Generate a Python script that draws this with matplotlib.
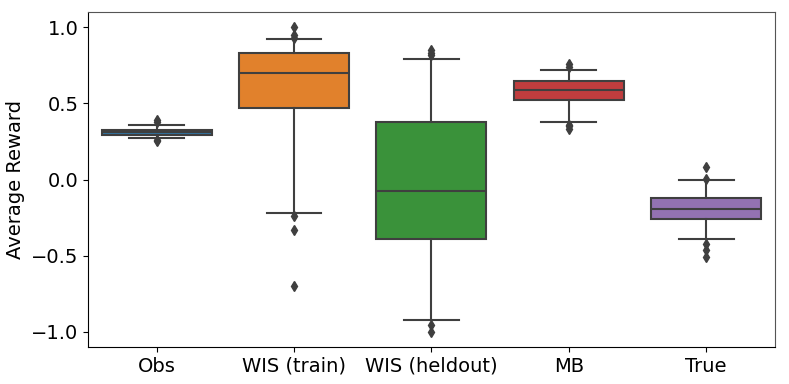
import matplotlib
matplotlib.use('Agg')
from matplotlib import pyplot as plt

labels = ['Obs', 'WIS (train)', 'WIS (heldout)', 'MB', 'True']
medians = [0.31, 0.70, -0.075, 0.585, -0.195]
q1 = [0.29, 0.47, -0.39, 0.52, -0.26]
q3 = [0.325, 0.83, 0.38, 0.645, -0.12]
whis_lo = [0.27, -0.22, -0.92, 0.38, -0.39]
whis_hi = [0.355, 0.92, 0.79, 0.72, 0.0]
fliers = [
    [0.39, 0.38, 0.25, 0.26],
    [1.0, 0.95, 0.93, -0.24, -0.33, -0.70],
    [0.85, 0.83, 0.82, -0.955, -1.0],
    [0.755, 0.74, 0.36, 0.35, 0.33],
    [0.08, 0.005, -0.42, -0.46, -0.51],
]
colors = ['#3274a1', '#e1812c', '#3a923a', '#c03d3e', '#9372b2']
line_color = '#3f3f3f'

stats = []
for i in range(len(labels)):
    stats.append(dict(label=labels[i], med=medians[i], q1=q1[i], q3=q3[i],
                      whislo=whis_lo[i], whishi=whis_hi[i], fliers=fliers[i]))

fig = plt.figure(figsize=(7.89, 3.84), dpi=100)
ax = fig.add_axes([0.1115, 0.096, 0.8705, 0.873])

lp = dict(color=line_color, linewidth=1.5)
bp = ax.bxp(stats, positions=range(len(labels)), widths=0.8, patch_artist=True,
            boxprops=dict(edgecolor=line_color, linewidth=1.5),
            medianprops=lp, whiskerprops=lp, capprops=lp,
            flierprops=dict(marker='d', markerfacecolor=line_color,
                            markeredgecolor=line_color, markersize=5))
for patch, c in zip(bp['boxes'], colors):
    patch.set_facecolor(c)
for cap in bp['caps']:
    x = cap.get_xdata()
    mid = (x[0] + x[1]) / 2
    cap.set_xdata([mid - 0.2, mid + 0.2])

ax.spines['top'].set_color('#555555')
ax.spines['right'].set_color('#555555')

ax.set_xlim(-0.5, len(labels) - 0.5)
ax.set_ylim(-1.1, 1.1)
ax.set_yticks([-1.0, -0.5, 0.0, 0.5, 1.0])
ax.set_xticks(range(len(labels)))
ax.set_xticklabels(labels)
ax.tick_params(labelsize=14)
ax.set_ylabel('Average Reward', fontsize=14)

plt.savefig('out.png')
